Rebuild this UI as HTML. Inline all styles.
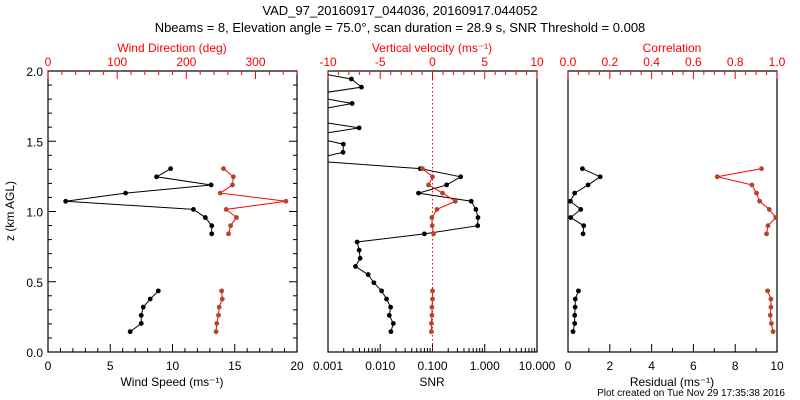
<!DOCTYPE html>
<html><head><meta charset="utf-8"><style>
body{margin:0;background:#fff;width:800px;height:400px;overflow:hidden}
svg{display:block;font-family:"Liberation Sans",sans-serif}
</style></head><body>
<svg id="c" width="800" height="400" viewBox="0 0 800 400">
<defs>
<clipPath id="cp1"><rect x="48" y="71" width="249" height="281"/></clipPath>
<clipPath id="cp2"><rect x="328" y="71" width="209" height="281"/></clipPath>
<clipPath id="cp3"><rect x="568" y="71" width="209" height="281"/></clipPath>
</defs>
<text x="400" y="15" text-anchor="middle" font-size="13">VAD_97_20160917_044036, 20160917.044052</text>
<text x="400" y="32" text-anchor="middle" font-size="13">Nbeams = 8, Elevation angle = 75.0°, scan duration = 28.9 s, SNR Threshold = 0.008</text>
<text x="785" y="396" text-anchor="end" font-size="10">Plot created on Tue Nov 29 17:35:38 2016</text>
</svg>
<script>
const heights=[0.145,0.203,0.261,0.319,0.377,0.435,0.493,0.551,0.609,0.667,0.725,0.783,0.841,0.899,0.957,1.015,1.073,1.131,1.189,1.247,1.305,1.363,1.421,1.479,1.537,1.595,1.653,1.711,1.769,1.827,1.885,1.943,2.001];
const N=null;
const windSpeed=[6.6,7.49,7.49,7.65,8.21,8.86,N,N,N,N,N,N,13.15,13.15,12.64,11.68,1.42,6.23,13.1,8.72,9.85];
const windDir=[243,244,246.5,247.5,252,251,N,N,N,N,N,N,261,264,272.5,257.6,344,249,266.7,268,253.7];
const snr=[0.016,0.0178,0.0149,0.0158,0.0132,0.0106,0.00755,0.00587,0.00336,0.00412,0.00395,0.00361,0.070,0.733,0.742,0.677,0.55,0.054,0.186,0.346,0.058,0.0004,0.00194,0.00197,0.0004,0.00395,0.0004,0.0004,0.00289,0.0004,0.00437,0.0028,0.0004];
const wVel=[-0.1,-0.1,-0.05,-0.05,0,0,N,N,N,N,N,N,0.1,-0.03,-0.06,0.42,2.18,0.96,-0.38,0,-0.96];
const residual=[0.24,0.32,0.32,0.34,0.35,0.5,N,N,N,N,N,N,0.72,0.75,0.13,0.61,0.11,0.32,0.96,1.54,0.69];
const correlation=[0.981,0.973,0.968,0.971,0.971,0.955,N,N,N,N,N,N,0.95,0.957,0.994,0.963,0.917,0.902,0.88,0.714,0.926];
const yTicks=["0.0","0.5","1.0","1.5","2.0"];
const wsTicks=["0","5","10","15","20"];
const wdTicks=["0","100","200","300"];
const snrTicks=["0.001","0.010","0.100","1.000","10.000"];
const wTicks=["-10","-5","0","5","10"];
const resTicks=["0","2","4","6","8","10"];
const corTicks=["0.0","0.2","0.4","0.6","0.8","1.0"];

const svg=document.getElementById('c');const NS='http://www.w3.org/2000/svg';
const Y0=352,Y1=71;
const yS=z=>Y0-(z/2)*(Y0-Y1);
function el(t,a,p){const e=document.createElementNS(NS,t);for(const k in a)e.setAttribute(k,a[k]);(p||svg).appendChild(e);return e;}
function txt(x,y,s,col,anchor,size,name){const t=el('text',{x:x,y:y,fill:col,'text-anchor':anchor||'middle','font-size':size||12});t.textContent=s;


return t;}
function line(x1,y1,x2,y2,col,w,extra){const l=el('line',Object.assign({x1:x1,y1:y1,x2:x2,y2:y2,stroke:col,'stroke-width':w||1},extra||{}));return l;}
function frame(x0,x1,name){const r=el('rect',{x:x0,y:Y1,width:x1-x0,height:Y0-Y1,fill:'none',stroke:'#000','stroke-width':1.2});

}
function series(vals,xs,col,mcol,clip,name){
  const g=el('g',{'clip-path':'url(#'+clip+')'});
  
  
  let seg=[];const segs=[];
  vals.forEach((v,i)=>{if(v===null){if(seg.length)segs.push(seg);seg=[];}else seg.push([xs(v),yS(heights[i])]);});
  if(seg.length)segs.push(seg);
  segs.forEach(s=>{el('polyline',{points:s.map(p=>p.join(',')).join(' '),fill:'none',stroke:col,'stroke-width':1},g);
    s.forEach(p=>el('circle',{cx:p[0],cy:p[1],r:2.4,fill:mcol},g));});
}
// panel 1
const L0=48,L1=297;
const xWS=v=>L0+v/20*(L1-L0), xWD=v=>L0+v/360*(L1-L0);
frame(L0,L1,'wind-panel-frame');
for(let k=0;k<=20;k++){const y=yS(k*0.1);const len=k%5==0?8:4;line(L0,y,L0+len,y,'#000');line(L1,y,L1-len,y,'#000');}
yTicks.forEach((s,i)=>txt(L0-5,yS(i*0.5)+5,s,'#000','end',12,'y-tick-label'));
for(let v=0;v<=20;v++){const x=xWS(v);const len=v%5==0?8:4;line(x,Y0,x,Y0-len,'#000');}
wsTicks.forEach((s,i)=>txt(xWS(i*5),370,s,'#000','middle',12,'wind-speed-tick-label'));
for(let v=0;v<=360;v+=20){const x=xWD(v);const len=v%100==0?8:4;line(x,Y1,x,Y1+len,'#f00');}
wdTicks.forEach((s,i)=>txt(xWD(i*100),66,s,'#f00','middle',12,'wind-direction-tick-label'));
txt(172,386,'Wind Speed (ms⁻¹)','#000','middle',12,'x-axis-title-wind-speed');
txt(172,52,'Wind Direction (deg)','#f00','middle',12,'x-axis-title-wind-direction');
const yt=txt(14,211,'z (km AGL)','#000','middle',12,'y-axis-title');yt.setAttribute('transform','rotate(-90 14 211)');
series(windSpeed,xWS,'#000','#000','cp1','wind-speed-series');
series(windDir,xWD,'#f00','#b5442a','cp1','wind-direction-series');
// panel 2
const M0=328,M1=537;
const xSNR=v=>M0+(Math.log10(v)+3)/4*(M1-M0), xW=v=>M0+(v+10)/20*(M1-M0);
frame(M0,M1,'snr-panel-frame');
for(let d=-3;d<1;d++)for(let m=1;m<10;m++){const x=xSNR(m*Math.pow(10,d));line(x,Y0,x,Y0-(m==1?8:4),'#000');}
snrTicks.forEach((s,i)=>txt(xSNR(Math.pow(10,i-3)),370,s,'#000','middle',12,'snr-tick-label'));
for(let v=-10;v<=10;v++){const x=xW(v);line(x,Y1,x,Y1+(v%5==0?8:4),'#f00');}
wTicks.forEach((s,i)=>txt(xW(-10+i*5),66,s,'#f00','middle',12,'vertical-velocity-tick-label'));
const thr=line(xSNR(0.1),Y1,xSNR(0.1),Y0,'#f00',1,{'stroke-dasharray':'1.5,2.5'});


txt(432,386,'SNR','#000','middle',12,'x-axis-title-snr');
txt(432,52,'Vertical velocity (ms⁻¹)','#f00','middle',12,'x-axis-title-vertical-velocity');
series(snr,xSNR,'#000','#000','cp2','snr-series');
series(wVel,xW,'#f00','#b5442a','cp2','vertical-velocity-series');
// panel 3
const R0=568,R1=777;
const xR=v=>R0+v/10*(R1-R0), xC=v=>R0+v*(R1-R0);
frame(R0,R1,'residual-panel-frame');
for(let v=0;v<=10;v++){const x=xR(v);line(x,Y0,x,Y0-(v%2==0?8:4),'#000');}
resTicks.forEach((s,i)=>txt(xR(i*2),370,s,'#000','middle',12,'residual-tick-label'));
for(let v=0;v<=20;v++){const x=xC(v*0.05);line(x,Y1,x,Y1+(v%4==0?8:4),'#f00');}
corTicks.forEach((s,i)=>txt(xC(i*0.2),66,s,'#f00','middle',12,'correlation-tick-label'));
txt(672,386,'Residual (ms⁻¹)','#000','middle',12,'x-axis-title-residual');
txt(672,52,'Correlation','#f00','middle',12,'x-axis-title-correlation');
series(residual,xR,'#000','#000','cp3','residual-series');
series(correlation,xC,'#f00','#b5442a','cp3','correlation-series');
</script>
</body></html>
